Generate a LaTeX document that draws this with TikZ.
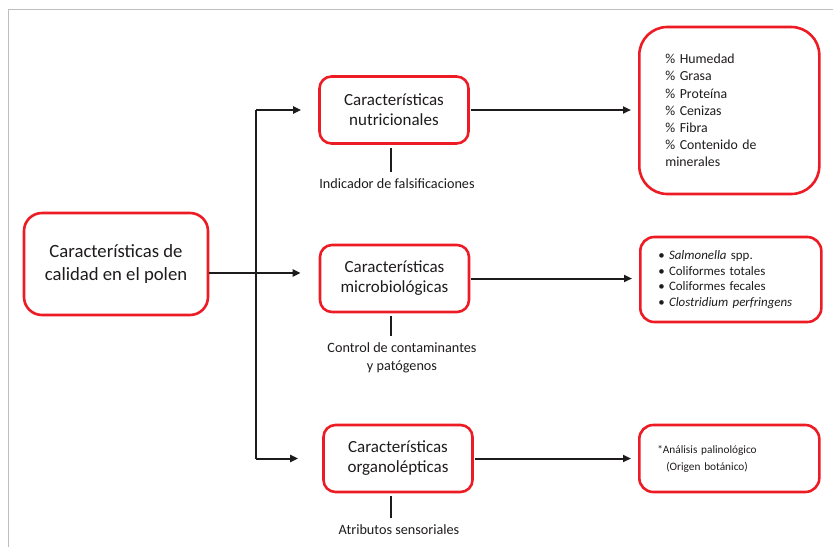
\documentclass[tikz,border=0pt]{standalone}
\usepackage{fontspec}
\setmainfont{Carlito}
\usetikzlibrary{arrows.meta}
\definecolor{boxred}{RGB}{237,28,36}
\definecolor{ink}{RGB}{30,27,28}
\definecolor{framegray}{RGB}{190,190,190}

\begin{document}
\begin{tikzpicture}[x=1pt, y=-1pt,
    box/.style={draw=boxred, line width=2.6pt, rounded corners=12pt, align=center,
        text=ink, inner sep=0pt, minimum width=149pt, minimum height=67pt,
        font=\fontsize{17}{20}\selectfont},
    list/.style={box, anchor=west, align=left, inner xsep=18pt, text width=145pt,
        minimum width=0pt, font=\fontsize{12.9}{15.6}\selectfont},
    note/.style={text=ink, align=center, inner sep=1pt, font=\fontsize{14.2}{18}\selectfont},
    link/.style={draw=ink, line width=2pt},
    tick/.style={draw=ink, line width=2.6pt},
    post/.style={link, -{Triangle[length=8pt, width=7pt]}}]

    \useasboundingbox (0,0) rectangle (833,547);

    % frame
    \draw[framegray, line width=1pt] (8,547) |- (833,9);

    % draw nodes
    \node [box, minimum width=184pt, minimum height=102pt, rounded corners=18pt,
        font=\fontsize{18.7}{23}\selectfont]
        (cal) at (116,264) {Características de\\calidad en el polen};

    \node [box] (nut) at (394,110) {Características\\nutricionales};
    \node [box] (mic) at (394.5,278.5) {Características\\microbiológicas};
    \node [box] (org) at (398,458.5) {Características\\organolépticas};

    \node [note] (fal) at (397,184) {Indicador de falsificaciones};
    \node [note] (con) at (402,358) {Control de contaminantes\\y patógenos};
    \node [note] (sen) at (399,530) {Atributos sensoriales};

    \node [list, rounded corners=28pt, inner xsep=26pt, text width=128pt,
        minimum height=167pt, font=\fontsize{13.8}{17.2}\selectfont]
        (hum) at (638,110.5) {\% Humedad\\\% Grasa\\\% Proteína\\\% Cenizas\\\% Fibra\\
        \% Contenido de\\minerales};
    \node [list, rounded corners=14pt, minimum height=85pt]
        (pat) at (639,279.5) {• \textit{Salmonella} spp.\\• Coliformes totales\\
        • Coliformes fecales\\• \textit{Clostridium perfringens}};
    \node [list, rounded corners=14pt, minimum height=67pt, text width=144pt,
        font=\fontsize{11.3}{17}\selectfont]
        (pal) at (638,458.5) {*Análisis palinológico\\\hspace*{9pt}(Origen botánico)};

    % draw edges
    \coordinate (jn) at (256,273);
    \draw[link] (jn |- nut.west) -- (jn |- org.west);
    \draw[post, shorten >=17pt] (jn |- nut.west) -- (nut.west);
    \draw[post, shorten >=18pt] (cal.east |- jn) -- (mic.west |- jn);
    \draw[post, shorten >=24pt] (jn |- org.west) -- (org.west);

    \foreach \a/\b in {nut/hum, mic/pat, org/pal}
        \draw[post, shorten >=7pt, shorten <=1pt] (\a.east) -- (\a.east -| \b.west);

    % draw ticks
    \foreach \a/\b in {nut/fal, mic/con, org/sen}
        \draw[tick, shorten <=3pt, shorten >=6pt] (\a.south -| 391,0) -- (\b.north -| 391,0);

\end{tikzpicture}
\end{document}
